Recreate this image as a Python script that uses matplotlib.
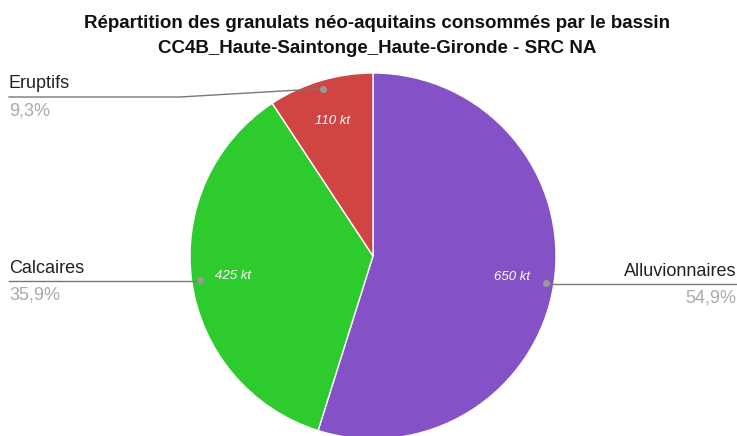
import numpy as np
import matplotlib.pyplot as plt

# Data
categories = ["Alluvionnaires", "Calcaires", "Eruptifs"]
values_kt = [650, 425, 110]
percent_labels = ["54,9%", "35,9%", "9,3%"]
colors = ["#8551c7", "#2ecb2e", "#d04444"]

title = ("Répartition des granulats néo-aquitains consommés par le bassin\n"
         "CC4B_Haute-Saintonge_Haute-Gironde - SRC NA")

plt.rcParams['font.family'] = ['Liberation Sans', 'DejaVu Sans']

W, H = 737, 436
fig = plt.figure(figsize=(W / 100, H / 100), dpi=100)

# pie axes: centre (373, 256) px, radius 183 px
cx, cy, r = 373, 256, 183
ax = fig.add_axes([(cx - r) / W, (H - cy - r) / H, 2 * r / W, 2 * r / H])
wedges, _ = ax.pie(values_kt, colors=colors, startangle=90, counterclock=False,
                   wedgeprops=dict(edgecolor="white", linewidth=1))
ax.set_xlim(-1, 1)
ax.set_ylim(-1, 1)
ax.set_aspect("equal")
ax.axis("off")

fig.text(377 / W, 1 - 36 / H, title, ha="center", va="center", fontsize=13.5,
         fontweight="bold", color="#111111", linespacing=1.6)

# overlay axes in pixel coordinates for leader lines and outside labels
ov = fig.add_axes([0, 0, 1, 1])
ov.set_xlim(0, W)
ov.set_ylim(H, 0)
ov.axis("off")

# label layout: (text x, line y, line end x, align)
layout = {
    "Alluvionnaires": (736, 284, 737, "right"),
    "Calcaires": (9, 281, 9, "left"),
    "Eruptifs": (9, 97, 9, "left"),
}

for w, name, val, pct in zip(wedges, categories, values_kt, percent_labels):
    mid = np.deg2rad((w.theta1 + w.theta2) / 2)
    # value inside slice
    vx, vy = cx + 0.77 * r * np.cos(mid), cy - 0.77 * r * np.sin(mid)
    ov.text(vx, vy, f"{val} kt", ha="center", va="center", fontsize=9.5,
            style="italic", color="white")
    # leader line with dot
    dx, dy = cx + 0.955 * r * np.cos(mid), cy - 0.955 * r * np.sin(mid)
    tx, ly, lx, align = layout[name]
    if name == "Eruptifs":
        ov.plot([dx, 180, lx], [dy, ly, ly], color="#777777", lw=1)
    else:
        ov.plot([dx, lx], [ly, ly], color="#777777", lw=1)
    ov.plot(dx, dy, "o", color="#999999", ms=4)
    ov.text(tx, ly - 13, name, ha=align, va="center", fontsize=13, color="#222222")
    ov.text(tx, ly + 14, pct, ha=align, va="center", fontsize=13, color="#aaaaaa")

fig.savefig("out.png", dpi=100)
